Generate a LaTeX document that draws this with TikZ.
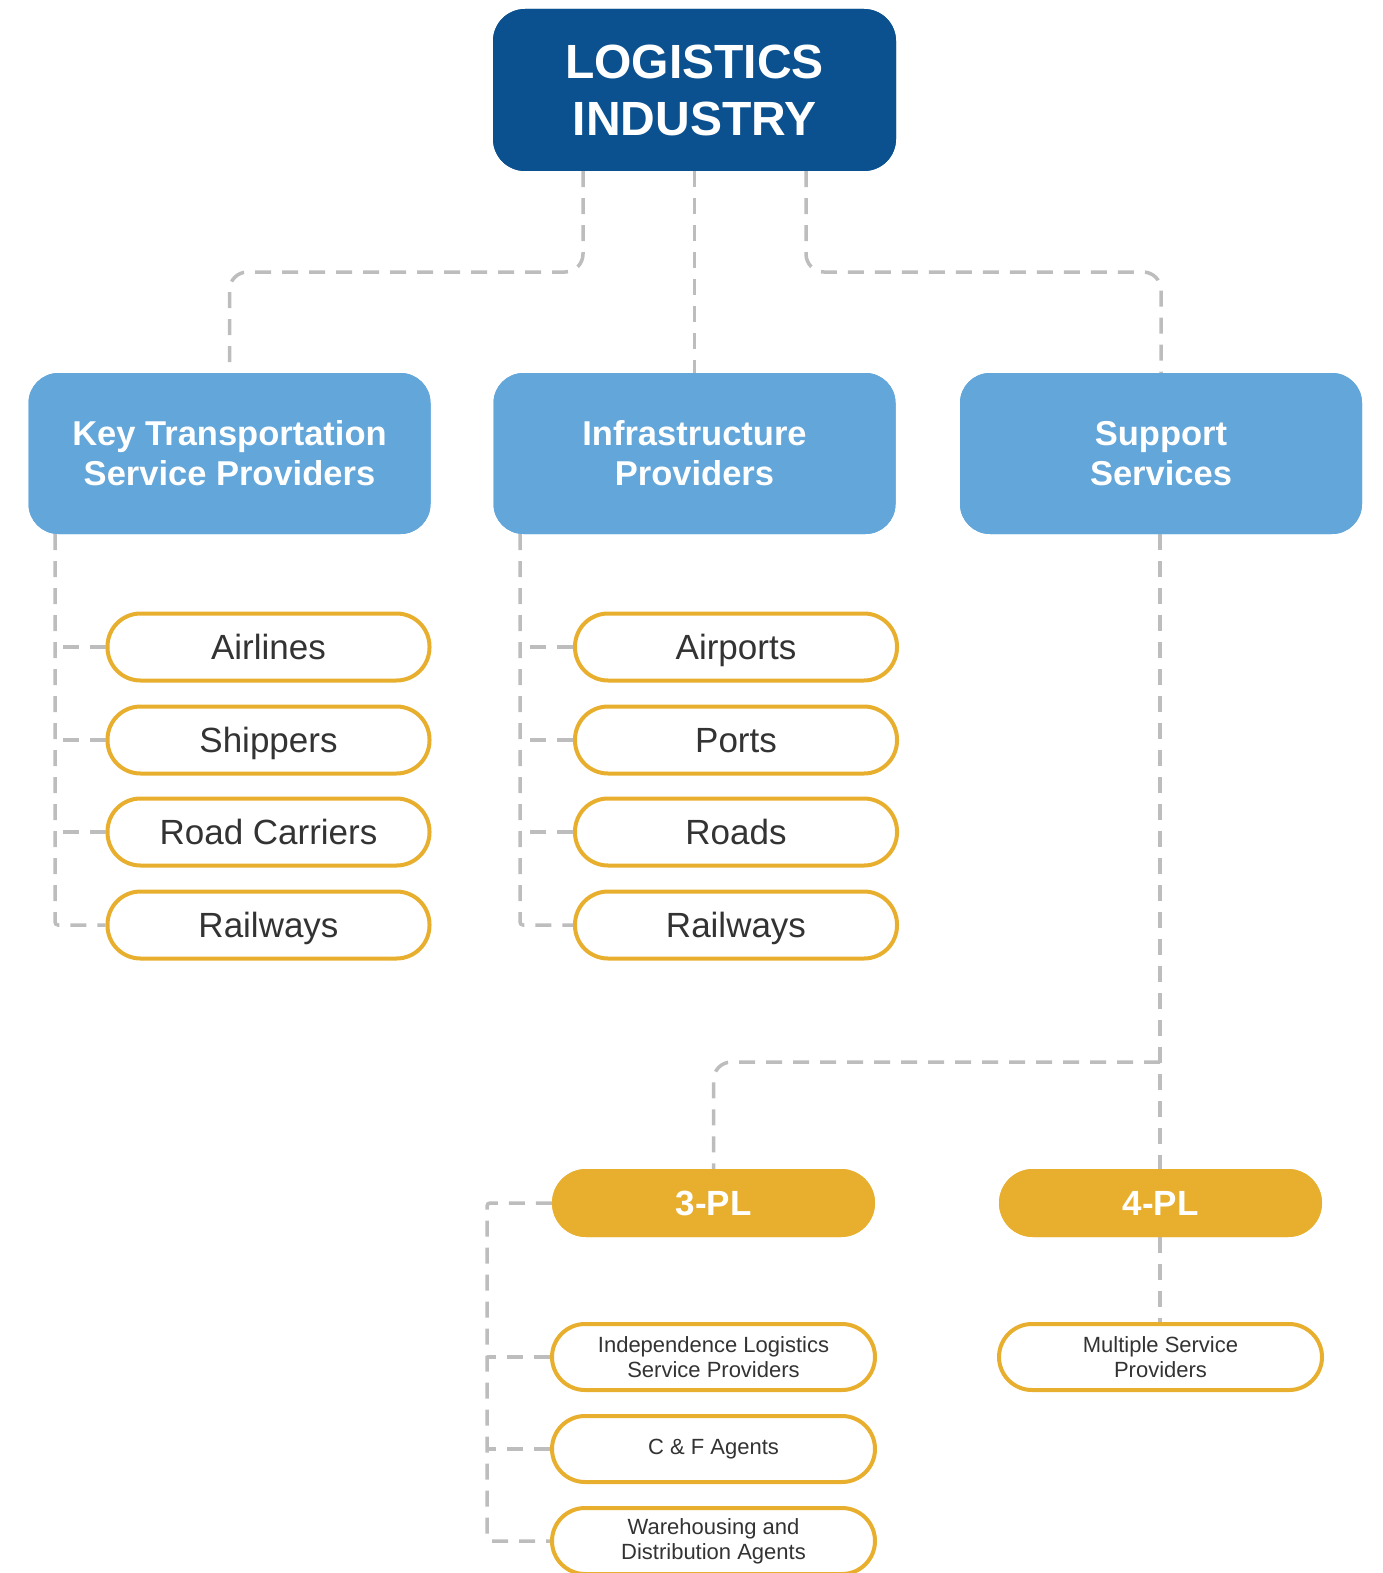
\documentclass[tikz,border=0pt]{standalone}
\usepackage{fontspec}
\setmainfont{Liberation Sans}
\definecolor{dblue}{HTML}{0B5190}
\definecolor{lblue}{HTML}{62A6DA}
\definecolor{gold}{HTML}{E8AF2E}
\definecolor{dashgrey}{HTML}{BDBDBD}
\definecolor{txt}{HTML}{333333}
\begin{document}
\begin{tikzpicture}[x=1pt,y=-1pt,
  topbox/.style={fill=dblue, draw=none, rounded corners=32pt, minimum width=403pt, minimum height=162pt, text=white, align=center, font=\fontsize{48}{57}\selectfont\bfseries},
  midbox/.style={fill=lblue, draw=none, rounded corners=30pt, minimum width=402pt, minimum height=161pt, text=white, align=center, font=\fontsize{34.5}{40}\selectfont\bfseries},
  pill/.style={draw=gold, line width=4pt, fill=white, rounded corners=33pt, minimum width=322pt, minimum height=67pt, text=txt, text height=28pt, text depth=4pt, font=\fontsize{35}{40}\selectfont},
  spill/.style={draw=gold, line width=4pt, fill=white, rounded corners=33pt, minimum width=323pt, minimum height=66pt, text=txt, align=center, font=\fontsize{22}{25}\selectfont},
  plbox/.style={fill=gold, draw=none, rounded corners=34pt, minimum width=323pt, minimum height=68pt, text=white, font=\fontsize{35}{40}\selectfont\bfseries},
  conn/.style={draw=dashgrey, line width=3.5pt, dash pattern=on 16pt off 11pt, rounded corners=18pt}
]
\useasboundingbox (0,0) rectangle (1382,1573);

\node[topbox] (top) at (694.5,90) {LOGISTICS\\INDUSTRY};
\node[midbox] (kt) at (229.5,453.5) {Key Transportation\\Service Providers};
\node[midbox] (ip) at (694.5,453.5) {Infrastructure\\Providers};
\node[midbox] (ss) at (1161,453.5) {Support\\Services};

\node[pill] (a1) at (268.5,647) {Airlines};
\node[pill] (a2) at (268.5,740) {Shippers};
\node[pill] (a3) at (268.5,832) {Road Carriers};
\node[pill] (a4) at (268.5,925) {Railways};

\node[pill] (b1) at (736,647) {Airports};
\node[pill] (b2) at (736,740) {Ports};
\node[pill] (b3) at (736,832) {Roads};
\node[pill] (b4) at (736,925) {Railways};

\node[plbox] (p3) at (713.5,1203) {3-PL};
\node[plbox] (p4) at (1160.5,1203) {4-PL};

\node[spill] (c1) at (713.5,1357) {Independence Logistics\\Service Providers};
\node[spill] (c2) at (713.5,1449) {C \& F Agents};
\node[spill] (c3) at (713.5,1541) {Warehousing and\\Distribution Agents};
\node[spill] (d1) at (1160.5,1357) {Multiple Service\\Providers};

\coordinate (ktbus) at (55,534);
\coordinate (ipbus) at (520,534);
\coordinate (plbus) at (487,1203);
\coordinate (split) at (1160,1062);

% top to level 2
\draw[conn] (top.south -| 583,0) -- (583,272) -| (kt.north);
\draw[conn] (top.south) -- (ip.north);
\draw[conn] (top.south -| 806,0) -- (806,272) -| (ss.north);

% KT children
\draw[conn, rounded corners=3pt] (ktbus) |- (a4.west);
\foreach \n in {a1,a2,a3} \draw[conn, rounded corners=0pt] (\n.west) -- (\n.west -| ktbus);
% IP children
\draw[conn, rounded corners=3pt] (ipbus) |- (b4.west);
\foreach \n in {b1,b2,b3} \draw[conn, rounded corners=0pt] (\n.west) -- (\n.west -| ipbus);

% Support services
\draw[conn, rounded corners=0pt] (ss.south -| split) -- (p4.north -| split);
\draw[conn] (split) -| (p3.north);
\draw[conn, rounded corners=0pt] (p4.south -| split) -- (d1.north -| split);

% 3-PL children
\draw[conn, rounded corners=3pt] (p3.west) -- (plbus) |- (c3.west);
\foreach \n in {c1,c2} \draw[conn, rounded corners=0pt] (\n.west) -- (\n.west -| plbus);

% redraw boxes on top of connectors
\node[topbox] at (top) {LOGISTICS\\INDUSTRY};
\node[midbox] at (kt) {Key Transportation\\Service Providers};
\node[midbox] at (ip) {Infrastructure\\Providers};
\node[midbox] at (ss) {Support\\Services};
\node[plbox] at (p3) {3-PL};
\node[plbox] at (p4) {4-PL};
\end{tikzpicture}
\end{document}
